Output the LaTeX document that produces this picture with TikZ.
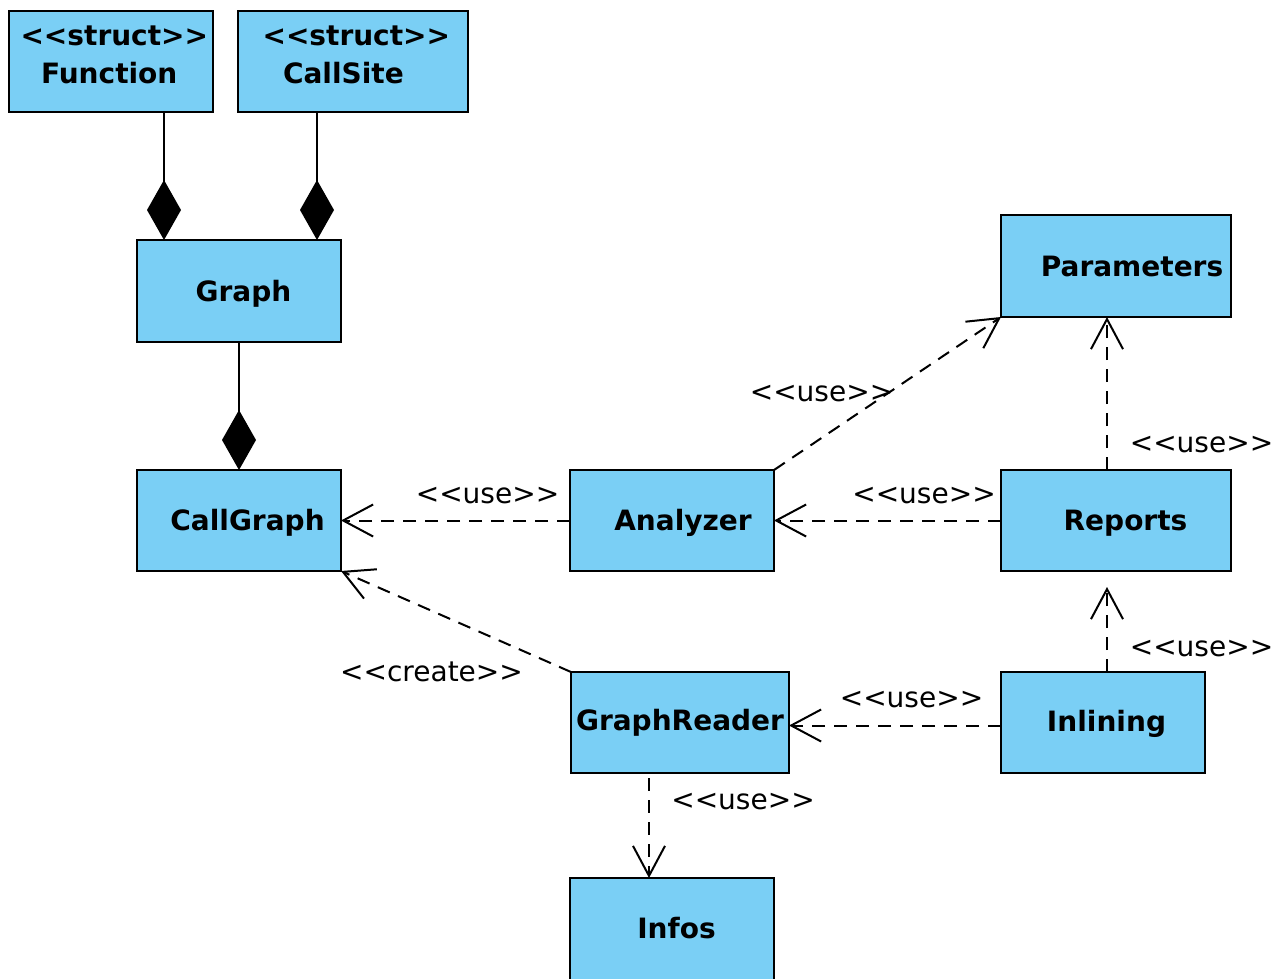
\documentclass[tikz,border=0pt]{standalone}
\usepackage{fontspec}
\setmainfont{DejaVu Sans}[Ligatures=TeXOff]
\usetikzlibrary{arrows.meta}
\definecolor{clsblue}{RGB}{122,207,245}
\begin{document}
\begin{tikzpicture}[x=1pt, y=-1pt,
    font=\fontsize{28}{32}\selectfont,
    cls/.style={draw, line width=2pt, fill=clsblue, anchor=north west, inner sep=0pt, outer sep=0pt},
    title/.style={font=\fontsize{28}{32}\selectfont\bfseries, text height=20.4pt, text depth=0pt},
    stereo/.style={anchor=base},
    dep/.style={line width=2pt, dash pattern=on 13pt off 9pt, -{Straight Barb[length=30pt, width=32pt]}},
    comp/.style={line width=2pt, -{Diamond[length=60pt, width=34pt]}}]

    \useasboundingbox (0,0) rectangle (1275,978);

    % Structs
    \node[cls, minimum width=204pt, minimum height=101pt,
        label={[title, anchor=base west, xshift=8pt, yshift=-34pt]north west:<<struct>>},
        label={[title, anchor=base west, xshift=28.5pt, yshift=-72pt]north west:Function}] (func) at (9,11) {};
    \node[cls, minimum width=230pt, minimum height=101pt,
        label={[title, anchor=base west, xshift=21pt, yshift=-34pt]north west:<<struct>>},
        label={[title, anchor=base west, xshift=41.5pt, yshift=-72pt]north west:CallSite}] (callsite) at (238,11) {};

    % Classes
    \node[cls, minimum width=204pt, minimum height=102pt,
        label={[title, xshift=4.5pt]center:Graph}] (graph) at (137,240) {};
    \node[cls, minimum width=204pt, minimum height=101pt,
        label={[title, xshift=8.5pt]center:CallGraph}] (callgraph) at (137,470) {};
    \node[cls, minimum width=204pt, minimum height=101pt,
        label={[title, xshift=11pt]center:Analyzer}] (analyzer) at (570,470) {};
    \node[cls, minimum width=230pt, minimum height=102pt,
        label={[title, xshift=16pt]center:Parameters}] (params) at (1001,215) {};
    \node[cls, minimum width=230pt, minimum height=101pt,
        label={[title, xshift=9.5pt]center:Reports}] (reports) at (1001,470) {};
    \node[cls, minimum width=218pt, minimum height=101pt,
        label={[title, yshift=2pt]center:GraphReader}] (reader) at (571,672) {};
    \node[cls, minimum width=204pt, minimum height=101pt,
        label={[title, xshift=3.5pt, yshift=1pt]center:Inlining}] (inlining) at (1001,672) {};
    \node[cls, minimum width=204pt, minimum height=200pt,
        label={[title, xshift=4.5pt, yshift=50pt]center:Infos}] (infos) at (570,878) {};

    % Composition
    \draw[comp] ([xshift=53pt]func.south) -- ([xshift=27pt]graph.north west);
    \draw[comp] ([xshift=-36pt]callsite.south) -- ([xshift=-24pt]graph.north east);
    \draw[comp] (graph.south) -- (callgraph.north);

    % Dependencies
    \draw[dep] (analyzer.west) -- (callgraph.east);
    \draw[dep] (reports.west) -- (analyzer.east);
    \draw[dep] (analyzer.north east) -- (params.south west);
    \draw[dep] ([xshift=-9pt]reports.north) -- ([xshift=-9pt]params.south);
    \draw[dep] (reader.north west) -- (callgraph.south east);
    \draw[dep] ([yshift=-3pt]inlining.west) -- ([yshift=-3pt]reader.east);
    \draw[dep] ([xshift=4pt]inlining.north) -- ([xshift=-9pt, yshift=-16pt]reports.south);
    \draw[dep] ([xshift=-31pt, yshift=-5pt]reader.south) -- ([xshift=-23pt]infos.north);

    % Stereotypes on the dependencies
    \node[stereo] (useA) at (487.5,503) {<<use>>};
    \node[stereo] (useB) at (924,503) {<<use>>};
    \node[stereo] (useC) at (821.5,401) {<<use>>};
    \node[stereo] (useD) at (1201.5,452) {<<use>>};
    \node[stereo] (create) at (431.5,681) {<<create>>};
    \node[stereo] (useE) at (911.5,707) {<<use>>};
    \node[stereo] (useF) at (1201.5,656) {<<use>>};
    \node[stereo] (useG) at (743,809) {<<use>>};
\end{tikzpicture}
\end{document}
